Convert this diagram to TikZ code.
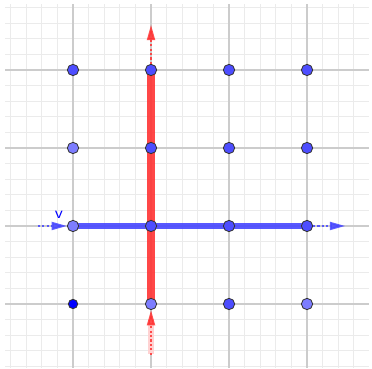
\documentclass[tikz,border=0pt]{standalone}
\usepackage{tikz}
\usetikzlibrary{arrows.meta}
\definecolor{ptdark}{RGB}{77,77,255}
\definecolor{ptlight}{RGB}{125,125,255}
\definecolor{vecred}{RGB}{255,51,51}
\definecolor{vecblue}{RGB}{70,70,255}

\begin{document}
\begin{tikzpicture}[x=1cm, y=1cm,
  pt/.style={circle, draw=black!80, line width=0.3pt, fill=ptdark, inner sep=0pt, minimum size=0.145cm},
  ptl/.style={pt, fill=ptlight},
  ptsmall/.style={pt, fill=blue, minimum size=0.12cm},
  vecdot/.style={line width=0.75pt, opacity=0.85, dash pattern=on 0.75pt off 0.85pt, -{Triangle[length=5.6pt, width=2.9pt]}}]
  \useasboundingbox (-0.936,-0.833) rectangle (3.833,3.897);
  \draw[black!8, line width=0.35pt, step=0.2] (-0.87,-0.82) grid (3.79,3.84);
  \draw[black!20, line width=0.4pt] (-0.87,0) -- (3.79,0);
  \draw[black!20, line width=0.4pt] (-0.87,1) -- (3.79,1);
  \draw[black!20, line width=0.4pt] (-0.87,2) -- (3.79,2);
  \draw[black!20, line width=0.4pt] (-0.87,3) -- (3.79,3);
  \draw[black!20, line width=0.4pt] (0,-0.82) -- (0,3.84);
  \draw[black!20, line width=0.4pt] (1,-0.82) -- (1,3.84);
  \draw[black!20, line width=0.4pt] (2,-0.82) -- (2,3.84);
  \draw[black!20, line width=0.4pt] (3,-0.82) -- (3,3.84);
  \coordinate (a00) at (0,0);
  \coordinate (a10) at (1,0);
  \coordinate (a13) at (1,3);
  \coordinate (a01) at (0,1);
  \coordinate (a31) at (3,1);
  \coordinate (redtip) at (1,3.58);
  \coordinate (redtail) at (1,-0.65);
  \coordinate (bluetail) at (-0.45,1);
  \coordinate (bluetip) at (3.49,1);
  \draw[vecred, opacity=0.9, line width=2.9pt] (a10) -- (a13);
  \draw[vecblue, opacity=0.9, line width=2.2pt] (a01) -- (a31);
  \draw[vecred!22, line width=2.2pt] (1,-0.64) -- (1,-0.19);
  \node[pt] (p03) at (0,3) {};
  \node[pt] (p13) at (1,3) {};
  \node[pt] (p23) at (2,3) {};
  \node[pt] (p33) at (3,3) {};
  \node[ptl] (p02) at (0,2) {};
  \node[pt] (p12) at (1,2) {};
  \node[pt] (p22) at (2,2) {};
  \node[pt] (p32) at (3,2) {};
  \node[ptl] (p01) at (0,1) {};
  \node[pt] (p11) at (1,1) {};
  \node[pt] (p21) at (2,1) {};
  \node[pt] (p31) at (3,1) {};
  \node[ptsmall] (p00) at (0,0) {};
  \node[ptl] (p10) at (1,0) {};
  \node[pt] (p20) at (2,0) {};
  \node[ptl] (p30) at (3,0) {};
  \draw[vecdot, vecred] (p13) -- (redtip);
  \draw[vecdot, vecred] (redtail) -- (p10);
  \draw[vecdot, vecblue] (bluetail) -- (p01);
  \draw[vecdot, vecblue] (p31) -- (bluetip);
  \node[text=blue, font=\fontsize{6}{7}\sffamily, inner sep=0pt] (vlabel) at (-0.18,1.14) {v};
\end{tikzpicture}
\end{document}
